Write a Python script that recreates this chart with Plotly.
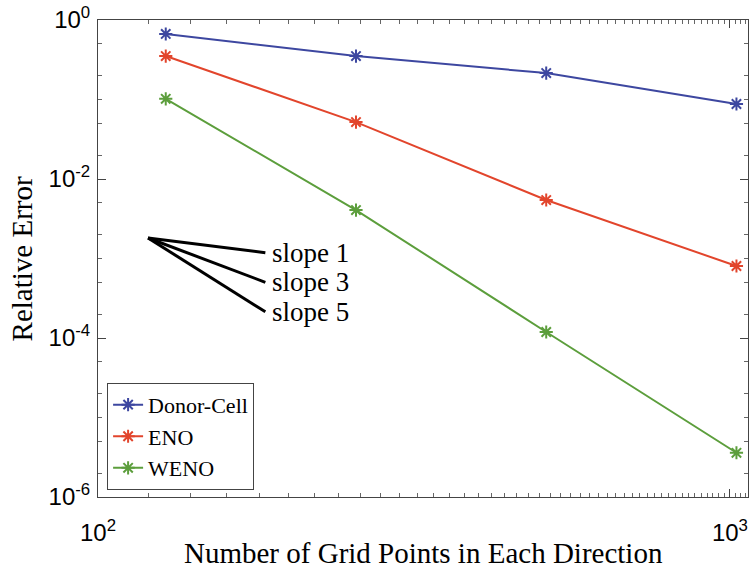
import plotly.graph_objects as go
import numpy as np

grid_points = [128, 256, 512, 1024]
donor_cell = [0.667, 0.352, 0.215, 0.0878]
eno = [0.352, 0.052, 0.00544, 0.000805]
weno = [0.102, 0.00407, 0.000119, 3.6e-6]

series_names = ["Donor-Cell", "ENO", "WENO"]
series_colors = ["#3d47a0", "#e2452c", "#5c9e3c"]

slopes = [1, 3, 5]
slope_x = [120, 184]
slope_y0 = 1.81e-3

y_tickvals = [1, 1e-2, 1e-4, 1e-6]
y_ticktext = ["10<sup>0</sup>", "10<sup>-2</sup>", "10<sup>-4</sup>", "10<sup>-6</sup>"]
x_tickvals = [100, 1000]
x_ticktext = ["10<sup>2</sup>", "10<sup>3</sup>"]

SERIF = "Liberation Serif, DejaVu Serif, serif"
SANS = "Liberation Sans, Arial, sans-serif"

fig = go.Figure()
for name, vals, col in zip(series_names, [donor_cell, eno, weno], series_colors):
    fig.add_trace(go.Scatter(
        x=grid_points, y=vals, name=name, mode="lines+markers",
        line=dict(color=col, width=2),
        marker=dict(symbol="asterisk-open", size=11, line=dict(color=col, width=2)),
    ))

for s in slopes:
    ys = [slope_y0, slope_y0 * (slope_x[1] / slope_x[0]) ** (-s)]
    fig.add_trace(go.Scatter(
        x=slope_x, y=ys, mode="lines", showlegend=False,
        line=dict(color="black", width=3), hoverinfo="skip",
    ))
    fig.add_annotation(x=np.log10(slope_x[1]), y=np.log10(ys[1]), xref="x", yref="y",
                       text=f"slope {s}", showarrow=False, xanchor="left", xshift=5,
                       font=dict(family=SERIF, size=27, color="black"))

fig.add_annotation(x=0.5, y=-0.117, xref="paper", yref="paper", yanchor="middle",
                   xanchor="center",
                   text="Number of Grid Points in Each Direction", showarrow=False,
                   font=dict(family=SERIF, size=29, color="black"))
fig.add_annotation(x=-0.117, y=0.5, xref="paper", yref="paper", textangle=-90,
                   xanchor="center", yanchor="middle",
                   text="Relative Error", showarrow=False,
                   font=dict(family=SERIF, size=29, color="black"))

axis_common = dict(
    type="log", showgrid=False, zeroline=False, showline=True, linecolor="#444",
    linewidth=1, mirror="allticks", ticks="inside", ticklen=8, tickcolor="#444",
    automargin=False,
    tickfont=dict(family=SANS, size=24, color="black"),
    minor=dict(ticks="inside", ticklen=4, tickcolor="#666", showgrid=False),
)
fig.update_xaxes(range=[2, np.log10(1068)], tickvals=x_tickvals, ticktext=x_ticktext,
                 ticklabelstandoff=14, **axis_common)
fig.update_yaxes(range=[-6, 0], tickvals=y_tickvals, ticktext=y_ticktext,
                 ticklabelstandoff=2, **axis_common)

fig.update_layout(
    width=750, height=569,
    margin=dict(l=98, r=2, t=20, b=72, autoexpand=False),
    paper_bgcolor="white", plot_bgcolor="white",
    legend=dict(x=0.014, y=0.015, xanchor="left", yanchor="bottom",
                bordercolor="#444", borderwidth=1, bgcolor="white",
                font=dict(family=SERIF, size=22, color="black"),
                itemwidth=30, tracegroupgap=0),
)
fig.write_html("out.html", config={"displayModeBar": False},
               post_script="document.body.style.margin='0';")
